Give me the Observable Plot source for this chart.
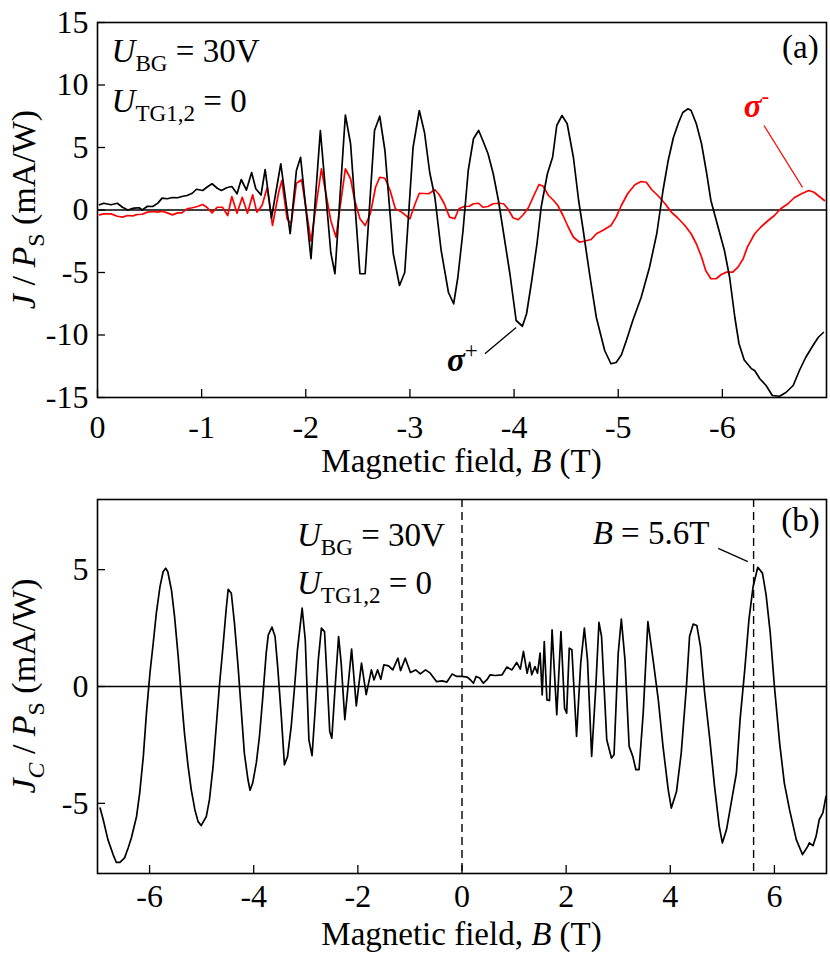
<!DOCTYPE html>
<html>
<head>
<meta charset="utf-8">
<script src="https://cdn.jsdelivr.net/npm/d3@7"></script>
<script src="https://cdn.jsdelivr.net/npm/@observablehq/plot@0.6"></script>
<style>
  html, body { margin: 0; padding: 0; background: #fff; }
  #chart svg { display: block; }
</style>
</head>
<body>
<div id="chart"></div>
<script>
// ---------- Panel (a): sigma+ (black) ----------
const aPlusB = [-0.02,-0.06,-0.13,-0.19,-0.24,-0.29,-0.35,-0.40,-0.43,-0.48,-0.53,-0.58,-0.62,-0.67,-0.72,-0.77,-0.81,-0.86,-0.91,-0.95,-1.01,-1.05,-1.10,-1.15,-1.19,-1.24,-1.29,-1.34,-1.38,-1.43,-1.48,-1.52,-1.57,-1.61,-1.67,-1.76,-1.85,-1.91,-1.95,-2.05,-2.14,-2.24,-2.28,-2.38,-2.43,-2.52,-2.57,-2.66,-2.71,-2.76,-2.84,-2.90,-2.95,-3.03,-3.09,-3.14,-3.19,-3.24,-3.30,-3.37,-3.42,-3.46,-3.51,-3.56,-3.61,-3.66,-3.70,-3.75,-3.80,-3.85,-3.90,-3.96,-4.02,-4.08,-4.12,-4.17,-4.22,-4.26,-4.32,-4.37,-4.41,-4.46,-4.51,-4.57,-4.62,-4.66,-4.73,-4.79,-4.87,-4.93,-4.98,-5.03,-5.08,-5.14,-5.22,-5.30,-5.37,-5.43,-5.48,-5.53,-5.58,-5.62,-5.67,-5.70,-5.75,-5.80,-5.85,-5.89,-5.96,-6.02,-6.07,-6.12,-6.16,-6.21,-6.28,-6.31,-6.36,-6.42,-6.48,-6.55,-6.61,-6.68,-6.74,-6.80,-6.87,-6.92,-6.97];
const aPlusJ = [0.42,0.54,0.42,0.54,0.22,0,0.15,0.18,0,0.3,0.28,0.55,0.95,0.9,1.0,0.98,1.08,1.16,1.34,1.66,1.56,1.82,2.1,1.74,1.56,1.78,1.88,1.3,2.44,1.6,3.0,1.7,1.2,3.24,-0.65,3.7,-1.9,3.16,4.22,-3.9,6.36,-3.4,-5.1,7.6,5.3,-5.1,-5.1,6.36,7.5,4.76,-3.5,-6.04,-5.0,5.0,7.96,6.2,3.0,1.0,-3.24,-6.6,-7.5,-5.4,-1.64,3.16,5.7,6.36,5.56,4.5,2.9,0.76,-1.9,-5.1,-8.84,-9.3,-8.3,-5.64,-2.7,0.22,2.9,4.22,6.76,7.56,6.9,4.2,0.76,-1.4,-5.4,-8.6,-11.24,-12.3,-12.2,-11.6,-10.4,-8.84,-7.0,-4.6,-1.9,1.56,3.96,5.8,7.0,7.8,8.1,7.96,6.9,5.3,2.9,0.76,-1.4,-3.24,-5.4,-8.6,-10.7,-12.0,-12.7,-12.84,-13.5,-14.04,-14.84,-14.9,-14.6,-14.04,-12.84,-11.8,-10.84,-10.2,-9.8];

// ---------- Panel (a): sigma- (red) ----------
const aMinusB = [-0.02,-0.06,-0.13,-0.19,-0.24,-0.29,-0.34,-0.38,-0.43,-0.48,-0.53,-0.58,-0.62,-0.67,-0.72,-0.77,-0.81,-0.86,-0.91,-0.96,-1.01,-1.05,-1.10,-1.15,-1.20,-1.25,-1.29,-1.34,-1.39,-1.44,-1.49,-1.53,-1.58,-1.63,-1.68,-1.74,-1.77,-1.82,-1.86,-1.91,-1.96,-2.05,-2.15,-2.24,-2.29,-2.38,-2.43,-2.47,-2.52,-2.57,-2.62,-2.67,-2.71,-2.76,-2.81,-2.86,-2.92,-3.00,-3.05,-3.09,-3.18,-3.24,-3.28,-3.33,-3.38,-3.43,-3.47,-3.52,-3.57,-3.61,-3.66,-3.70,-3.75,-3.80,-3.85,-3.90,-3.94,-3.99,-4.04,-4.09,-4.14,-4.19,-4.24,-4.28,-4.33,-4.38,-4.42,-4.47,-4.52,-4.57,-4.63,-4.70,-4.74,-4.79,-4.85,-4.93,-4.98,-5.03,-5.09,-5.16,-5.22,-5.27,-5.32,-5.38,-5.45,-5.51,-5.57,-5.64,-5.70,-5.75,-5.80,-5.84,-5.89,-5.94,-5.99,-6.04,-6.10,-6.15,-6.20,-6.24,-6.31,-6.37,-6.44,-6.50,-6.56,-6.63,-6.69,-6.76,-6.83,-6.88,-6.94,-6.98];
const aMinusJ = [-0.39,-0.31,-0.31,-0.5,-0.57,-0.44,-0.47,-0.36,-0.34,-0.17,-0.12,-0.17,-0.1,-0.23,-0.39,-0.23,-0.23,0.09,0.18,0.28,0.44,0.22,-0.23,0.22,0.22,-0.44,1.08,-0.26,1.02,-0.26,1.22,-0.17,0.36,1.82,-1.24,1.42,2.36,-0.7,-1.1,2.14,2.42,-2.5,3.3,-0.84,-2.18,3.3,2.5,0.76,-0.7,-1.24,-0.3,1.82,2.62,2.54,1.56,0.1,-0.17,-0.7,0.5,1.34,1.3,1.62,1.24,0.5,-0.57,-0.7,0.1,0.28,0.3,0.5,0.54,0.22,0.28,0.5,0.54,0.5,0.1,-0.62,-0.78,-0.36,0.22,1.16,2.04,1.9,1.16,0.76,0.36,-0.44,-1.36,-2.18,-2.58,-2.44,-2.36,-1.9,-1.64,-1.24,-0.57,0.36,1.3,2.02,2.28,2.22,1.64,1.16,0.5,-0.17,-0.62,-1.24,-1.9,-2.7,-3.76,-4.84,-5.5,-5.5,-5.16,-4.97,-4.97,-4.57,-3.9,-2.97,-1.9,-1.36,-0.84,-0.44,0.1,0.5,0.98,1.3,1.56,1.42,1.02,0.76];

// ---------- Panel (b): J_C ----------
const bB = [-6.95,-6.89,-6.80,-6.70,-6.64,-6.57,-6.48,-6.41,-6.35,-6.25,-6.19,-6.12,-6.06,-5.99,-5.93,-5.87,-5.80,-5.74,-5.69,-5.65,-5.58,-5.52,-5.45,-5.39,-5.33,-5.26,-5.20,-5.13,-5.07,-5.01,-4.91,-4.85,-4.78,-4.72,-4.66,-4.59,-4.53,-4.49,-4.43,-4.37,-4.30,-4.24,-4.18,-4.11,-4.07,-4.02,-3.95,-3.89,-3.83,-3.76,-3.72,-3.65,-3.59,-3.54,-3.47,-3.41,-3.35,-3.28,-3.22,-3.16,-3.07,-3.01,-2.94,-2.88,-2.82,-2.76,-2.70,-2.64,-2.59,-2.54,-2.50,-2.44,-2.37,-2.32,-2.25,-2.12,-2.03,-1.93,-1.84,-1.74,-1.69,-1.62,-1.56,-1.50,-1.41,-1.33,-1.23,-1.18,-1.09,-0.99,-0.89,-0.80,-0.70,-0.61,-0.49,-0.38,-0.29,-0.19,-0.10,0,0.10,0.16,0.22,0.27,0.34,0.41,0.48,0.54,0.64,0.77,0.86,0.96,1.05,1.12,1.18,1.25,1.30,1.34,1.40,1.45,1.50,1.54,1.58,1.63,1.68,1.73,1.82,1.90,1.97,2.01,2.06,2.11,2.20,2.28,2.35,2.41,2.49,2.57,2.63,2.68,2.78,2.87,2.92,3.00,3.06,3.13,3.21,3.28,3.34,3.40,3.48,3.57,3.67,3.77,3.86,3.96,4.02,4.12,4.21,4.31,4.37,4.44,4.51,4.58,4.66,4.76,4.85,4.94,5.00,5.08,5.17,5.27,5.34,5.43,5.51,5.59,5.68,5.77,5.84,5.92,6.00,6.10,6.19,6.29,6.42,6.54,6.64,6.67,6.74,6.80,6.86,6.93,6.99];
const bJ = [-5.2,-5.7,-6.55,-7.19,-7.52,-7.52,-7.33,-6.9,-6.48,-5.56,-4.56,-2.99,-1.14,0.64,1.85,3.14,4.27,4.91,5.06,4.91,4.13,2.99,1.28,-0.43,-1.99,-3.42,-4.41,-5.27,-5.77,-5.95,-5.56,-4.84,-3.42,-1.71,0,1.71,3.28,4.16,3.99,2.71,0.85,-1.0,-2.85,-3.99,-4.44,-4.13,-3.27,-2.14,-0.57,1.43,2.21,2.54,2.14,0.85,-1.28,-3.35,-2.99,-1.71,-0.14,1.57,3.35,2.0,-2.28,-2.96,-1.0,1.14,2.5,2.35,0.28,-1.92,-2.21,-0.14,2.14,1.0,-1.42,1.6,-0.83,1.0,-0.35,0.71,0.28,0.71,0.31,0.93,0.88,0.71,1.21,0.68,1.21,0.6,0.71,0.54,0.71,0.57,0.21,0.24,0.19,0.53,0.43,0.43,0.4,0.29,0.14,0.43,0.36,0.14,0.29,0.5,0.47,0.5,0.83,0.71,1.03,0.74,1.5,0.57,1.03,0.5,0.85,0.57,1.43,-0.36,1.92,-0.57,-0.6,2.42,-1.21,2.35,-0.93,-1.14,1.64,1.57,-2.14,1.0,2.5,1.14,-2.99,0,2.74,2.14,-2.28,-3.06,-2.92,1.43,2.88,1.14,-2.56,-2.99,-3.56,-3.56,-1.14,2.78,1.14,-0.57,-2.56,-4.41,-5.2,-4.49,-2.85,0,2.14,2.67,2.61,1.71,-0.28,-2.28,-4.27,-5.98,-6.69,-6.12,-4.98,-3.7,-1.42,0.71,2.85,4.27,5.1,4.85,3.92,2.28,0,-2.42,-4.13,-5.27,-6.55,-7.19,-6.84,-6.69,-6.81,-6.41,-5.7,-5.41,-4.7];

// ---------- ticks / texts ----------
const xTicksA = [0, -1, -2, -3, -4, -5, -6];
const yTicksA = [15, 10, 5, 0, -5, -10, -15];
const xTicksB = [-6, -4, -2, 0, 2, 4, 6];
const yTicksB = [5, 0, -5];
const markerB = [0, 5.6];
const xTitle = "Magnetic field, ";

const FONT = "'Liberation Serif', 'Times New Roman', serif";
const toRows = (xs, ys) => xs.map((x, i) => ({B: x, J: ys[i]}));
const plusRows = toRows(aPlusB, aPlusJ);
const minusRows = toRows(aMinusB, aMinusJ);
const bRows = toRows(bB, bJ);
const fmt = d => String(d);

// rich text helper (tspans for italic / sub / sup)
function rich(svg, x, y, parts, {size = 33, anchor = "start", rotate = false, fill = "black"} = {}) {
  const t = d3.select(svg).append("text")
    .attr("x", x).attr("y", y)
    .attr("font-family", FONT).attr("font-size", size)
    .attr("text-anchor", anchor).attr("fill", fill);
  if (rotate) t.attr("transform", `rotate(-90 ${x} ${y})`);
  let shift = 0;
  for (const p of parts) {
    const s = (p.sub || p.sup) ? size * 0.7 : size;
    const ns = p.sub ? size * 0.27 : p.sup ? -size * 0.4 : 0;
    const ts = t.append("tspan").text(p.t).attr("font-size", s).attr("dy", ns - shift);
    if (p.i) ts.attr("font-style", "italic");
    if (p.b) ts.attr("font-weight", "bold");
    shift = ns;
  }
  return t;
}

const TICK = 8;
const styleBase = {fontFamily: FONT, fontSize: "32px", background: "white", color: "black", overflow: "visible"};

// ---------- Panel (a) ----------
const hA = 480, mtA = 22, mbA = 83, mlA = 97, mrA = 4;
const plotA = Plot.plot({
  width: 830, height: hA, marginTop: mtA, marginBottom: mbA, marginLeft: mlA, marginRight: mrA,
  style: styleBase,
  x: {domain: [0, -7]},
  y: {domain: [-15, 15]},
  marks: [
    Plot.ruleY([0], {stroke: "black", strokeWidth: 1.6}),
    Plot.line(minusRows, {x: "B", y: "J", stroke: "#ff0000", strokeWidth: 1.7}),
    Plot.line(plusRows, {x: "B", y: "J", stroke: "black", strokeWidth: 1.7}),
    Plot.link([{x1: -6.40, y1: 6.76, x2: -6.77, y2: 1.8}], {x1: "x1", y1: "y1", x2: "x2", y2: "y2", stroke: "#ff0000", strokeWidth: 1.3}),
    Plot.link([{x1: -3.72, y1: -11.5, x2: -4.02, y2: -9.4}], {x1: "x1", y1: "y1", x2: "x2", y2: "y2", stroke: "black", strokeWidth: 1.3}),
    Plot.tickX(xTicksA, {x: d => d, insetTop: (hA - mtA - mbA) - TICK, stroke: "black", strokeWidth: 1.3}),
    Plot.tickY(yTicksA, {y: d => d, insetRight: (830 - mlA - mrA) - TICK, stroke: "black", strokeWidth: 1.3}),
    Plot.axisX(xTicksA, {tickSize: 0, tickPadding: 18, tickFormat: fmt, label: null}),
    Plot.axisY(yTicksA, {tickSize: 0, tickPadding: 9, tickFormat: fmt, label: null}),
    Plot.frame({stroke: "black", strokeWidth: 1.6})
  ]
});
{
  const sx = plotA.scale("x"), sy = plotA.scale("y");
  const X = v => sx.apply(v), Y = v => sy.apply(v);
  rich(plotA, X(-0.14), Y(11.8), [{t: "U", i: true}, {t: "BG", sub: true}, {t: " = 30V"}]);
  rich(plotA, X(-0.14), Y(7.8), [{t: "U", i: true}, {t: "TG1,2", sub: true}, {t: " = 0"}]);
  rich(plotA, X(-6.93), Y(12.1), [{t: "(a)"}], {anchor: "end"});
  rich(plotA, X(-6.21), Y(7.4), [{t: "σ", i: true, b: true}, {t: "-", sup: true}], {fill: "#ff0000"});
  rich(plotA, X(-3.36), Y(-12.9), [{t: "σ", i: true, b: true}, {t: "+", sup: true}]);
  const cx = (sx.range[0] + sx.range[1]) / 2;
  rich(plotA, cx, 472, [{t: xTitle}, {t: "B", i: true}, {t: " (T)"}], {anchor: "middle", size: 33});
  const cy = (sy.range[0] + sy.range[1]) / 2;
  rich(plotA, 35, cy, [{t: "J", i: true}, {t: " / "}, {t: "P", i: true}, {t: "S", sub: true}, {t: " (mA/W)"}], {anchor: "middle", rotate: true, size: 34});
}

// ---------- Panel (b) ----------
const hB = 479, mtB = 19, mbB = 86, mlB = 97, mrB = 4;
const plotB = Plot.plot({
  width: 830, height: hB, marginTop: mtB, marginBottom: mbB, marginLeft: mlB, marginRight: mrB,
  style: styleBase,
  x: {domain: [-7, 7]},
  y: {domain: [-8, 8]},
  marks: [
    Plot.ruleY([0], {stroke: "black", strokeWidth: 1.6}),
    Plot.ruleX(markerB, {stroke: "black", strokeWidth: 1.4, strokeDasharray: "8,5"}),
    Plot.line(bRows, {x: "B", y: "J", stroke: "black", strokeWidth: 1.7}),
    Plot.link([{x1: 4.92, y1: 5.91, x2: 5.49, y2: 5.34}], {x1: "x1", y1: "y1", x2: "x2", y2: "y2", stroke: "black", strokeWidth: 1.3}),
    Plot.tickX(xTicksB, {x: d => d, insetTop: (hB - mtB - mbB) - TICK, stroke: "black", strokeWidth: 1.3}),
    Plot.tickY(yTicksB, {y: d => d, insetRight: (830 - mlB - mrB) - TICK, stroke: "black", strokeWidth: 1.3}),
    Plot.axisX(xTicksB, {tickSize: 0, tickPadding: 11, tickFormat: fmt, label: null}),
    Plot.axisY(yTicksB, {tickSize: 0, tickPadding: 9, tickFormat: fmt, label: null}),
    Plot.frame({stroke: "black", strokeWidth: 1.6})
  ]
});
{
  const sx = plotB.scale("x"), sy = plotB.scale("y");
  const X = v => sx.apply(v), Y = v => sy.apply(v);
  rich(plotB, X(-3.16), Y(5.98), [{t: "U", i: true}, {t: "BG", sub: true}, {t: " = 30V"}]);
  rich(plotB, X(-3.16), Y(3.92), [{t: "U", i: true}, {t: "TG1,2", sub: true}, {t: " = 0"}]);
  rich(plotB, X(4.76), Y(6.06), [{t: "B", i: true}, {t: " = 5.6T"}], {anchor: "end"});
  rich(plotB, X(6.88), Y(6.62), [{t: "(b)"}], {anchor: "end"});
  const cx = (sx.range[0] + sx.range[1]) / 2;
  rich(plotB, cx, 465, [{t: xTitle}, {t: "B", i: true}, {t: " (T)"}], {anchor: "middle", size: 33});
  const cy = (sy.range[0] + sy.range[1]) / 2;
  rich(plotB, 35, cy, [{t: "J", i: true}, {t: "C", sub: true, i: true}, {t: " / "}, {t: "P", i: true}, {t: "S", sub: true}, {t: " (mA/W)"}], {anchor: "middle", rotate: true, size: 34});
}

const root = document.getElementById("chart");
root.appendChild(plotA);
root.appendChild(plotB);
</script>
</body>
</html>
